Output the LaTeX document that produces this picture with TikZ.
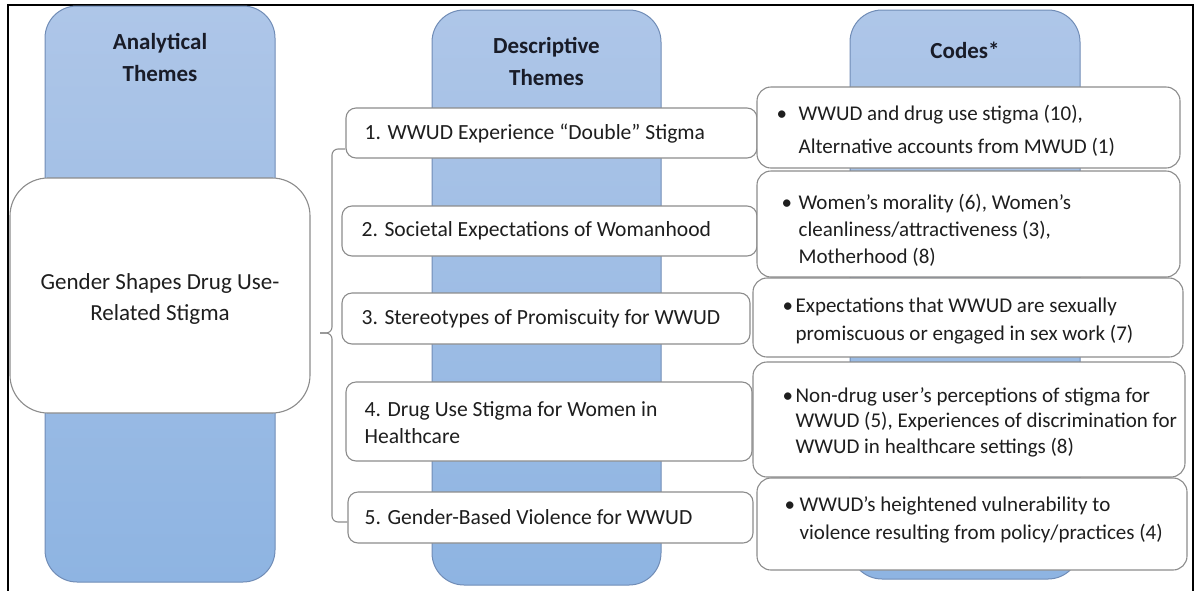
\documentclass[tikz,border=0pt]{standalone}
\usepackage{fontspec}
\setmainfont{Carlito}
\definecolor{coltop}{RGB}{174,198,232}
\definecolor{colbot}{RGB}{142,180,226}
\definecolor{colborder}{RGB}{112,140,182}
\definecolor{boxgray}{RGB}{140,140,140}
\definecolor{hdrtext}{RGB}{25,28,40}
\definecolor{bodytext}{RGB}{30,30,30}
\begin{document}
\begin{tikzpicture}[x=1pt,y=-1pt,
  col/.style={draw=colborder, line width=1pt, rounded corners=32pt, top color=coltop, bottom color=colbot, minimum width=#1},
  mainbox/.style={draw=boxgray, fill=white, line width=1.1pt, rounded corners=38pt},
  themebox/.style={draw=boxgray, fill=white, line width=1.1pt, rounded corners=10pt},
  codebox/.style={draw=boxgray, fill=white, line width=1.1pt, rounded corners=14pt},
  hdr/.style={font=\fontsize{23}{32}\selectfont\bfseries, align=center, text=hdrtext},
  txt/.style={font=\fontsize{21.6}{27}\selectfont, align=left, inner sep=0pt, anchor=west, text=bodytext},
  codetxt/.style={font=\fontsize{21}{#1}\selectfont, inner sep=0pt, anchor=west, text=bodytext},
  brk/.style={draw=boxgray, line width=1.1pt, rounded corners=6pt},
]
\useasboundingbox (0,0) rectangle (1199,590);
% outer frame
\draw[line width=2pt] (8,592) -- (8,5) -- (1193,5) -- (1193,592);
% columns
\node[col=230pt, minimum height=576pt] (col1) at (160,294) {};
\node[col=229pt, minimum height=575pt] (col2) at (546.5,297.5) {};
\node[col=230pt, minimum height=569pt] (col3) at (965,294.5) {};
\node[hdr] (h1) at (160,57) {Analytical\\Themes};
\node[hdr] (h2) at (546.5,61) {Descriptive\\Themes};
\node[hdr] (h3) at (965,50) {Codes*};
% main node
\node[mainbox, minimum width=300pt, minimum height=235pt] (main) at (160,295.5) {};
\node[font=\fontsize{23}{31}\selectfont, align=center, text=bodytext, inner sep=0pt, yshift=-3.5pt] (mt) at (main.center) {Gender Shapes Drug Use-\\Related Stigma};
% theme boxes
\node[themebox, minimum width=411pt, minimum height=50pt] (t1) at (551.5,133) {};
\node[themebox, minimum width=415pt, minimum height=50pt] (t2) at (549.5,231) {};
\node[themebox, minimum width=408pt, minimum height=51pt] (t3) at (546,318.5) {};
\node[themebox, minimum width=406pt, minimum height=79pt] (t4) at (549,421.5) {};
\node[themebox, minimum width=405pt, minimum height=51pt] (t5) at (550.5,517.5) {};
\node[txt, xshift=19pt, yshift=-1pt] (tt1) at (t1.west) {1. WWUD Experience “Double” Stigma};
\node[txt, xshift=20pt] (tt2) at (t2.west) {2. Societal Expectations of Womanhood};
\node[txt, xshift=20pt] (tt3) at (t3.west) {3. Stereotypes of Promiscuity for WWUD};
\node[txt, xshift=19pt, yshift=-1pt] (tt4) at (t4.west) {4. Drug Use Stigma for Women in\\Healthcare};
\node[txt, xshift=17pt] (tt5) at (t5.west) {5. Gender-Based Violence for WWUD};
% code boxes
\node[codebox, minimum width=423pt, minimum height=81pt] (c1) at (968.5,127.5) {};
\node[codebox, minimum width=423pt, minimum height=106pt] (c2) at (968.5,224) {};
\node[codebox, minimum width=430pt, minimum height=79pt] (c3) at (968,317.5) {};
\node[codebox, minimum width=432pt, minimum height=115pt] (c4) at (969,419.5) {};
\node[codebox, minimum width=430pt, minimum height=92pt] (c5) at (972,524) {};
\node[codetxt=33, xshift=20pt, yshift=-3pt] (ct1) at (c1.west) {\begin{tabular}{@{}p{22pt}@{}l@{}}\textbullet & WWUD and drug use stigma (10),\\ & Alternative accounts from MWUD (1)\end{tabular}};
\node[codetxt=27, xshift=25pt, yshift=-7pt] (ct2) at (c2.west) {\begin{tabular}{@{}p{17pt}@{}l@{}}\textbullet & Women’s morality (6), Women’s\\ & cleanliness/attractiveness (3),\\ & Motherhood (8)\end{tabular}};
\node[codetxt=28, xshift=30pt, yshift=-3.5pt] (ct3) at (c3.west) {\begin{tabular}{@{}p{13pt}@{}l@{}}\textbullet & Expectations that WWUD are sexually\\ & promiscuous or engaged in sex work (7)\end{tabular}};
\node[codetxt=25.5, xshift=30pt, yshift=-3pt] (ct4) at (c4.west) {\begin{tabular}{@{}p{13pt}@{}l@{}}\textbullet & Non-drug user’s perceptions of stigma for\\ & WWUD (5), Experiences of discrimination for\\ & WWUD in healthcare settings (8)\end{tabular}};
\node[codetxt=28, xshift=28pt, yshift=4pt] (ct5) at (c5.west) {\begin{tabular}{@{}p{15pt}@{}l@{}}\textbullet & WWUD’s heightened vulnerability to\\ & violence resulting from policy/practices (4)\end{tabular}};
% bracket
\coordinate (btip) at (320,333);
\draw[brk] ([yshift=-16pt]t1.west) -| ([xshift=12pt]btip) -- (btip);
\draw[brk] (btip) -- ([xshift=12pt]btip) |- ([yshift=-4.5pt]t5.west);
\end{tikzpicture}
\end{document}
